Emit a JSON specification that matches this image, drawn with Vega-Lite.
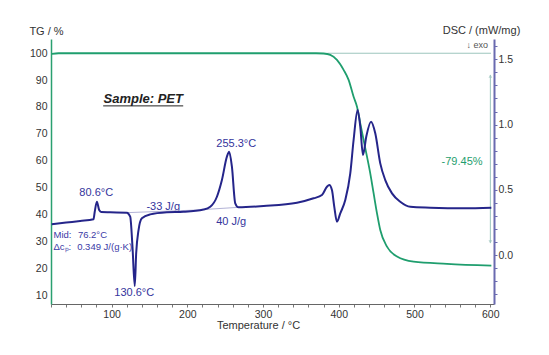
{
  "$schema": "https://vega.github.io/schema/vega-lite/v6.json",
  "width": 443,
  "height": 265,
  "autosize": {"type": "none"},
  "padding": {"left": 51, "top": 39, "right": 55, "bottom": 51},
  "background": "white",
  "config": {
    "view": {"stroke": null},
    "font": "Liberation Sans",
    "axis": {"grid": false, "labelFont": "Liberation Sans", "titleFont": "Liberation Sans"}
  },
  "datasets": {
    "tg": [
      {"T": 21, "TG": 99.8}, {"T": 30, "TG": 100}, {"T": 100, "TG": 100}, {"T": 200, "TG": 100},
      {"T": 300, "TG": 100}, {"T": 370, "TG": 100}, {"T": 380, "TG": 99.9}, {"T": 388.8, "TG": 99.4},
      {"T": 397.6, "TG": 97.5}, {"T": 406.4, "TG": 93.8}, {"T": 413, "TG": 90.1}, {"T": 419.6, "TG": 83.8},
      {"T": 424.1, "TG": 80.1}, {"T": 428.4, "TG": 73.9}, {"T": 432.8, "TG": 67.7}, {"T": 437.3, "TG": 61.5},
      {"T": 441.6, "TG": 55.3}, {"T": 446, "TG": 47.9}, {"T": 450.5, "TG": 40.4}, {"T": 454.8, "TG": 34.2},
      {"T": 463.7, "TG": 28}, {"T": 476.9, "TG": 24.3}, {"T": 498.8, "TG": 22.4}, {"T": 542.9, "TG": 21.6},
      {"T": 601.5, "TG": 20.9}
    ],
    "dsc": [
      {"T": 21, "DSC": 0.236}, {"T": 40, "DSC": 0.249}, {"T": 58.5, "DSC": 0.261}, {"T": 76.1, "DSC": 0.274},
      {"T": 77.7, "DSC": 0.33}, {"T": 80.6, "DSC": 0.409}, {"T": 83.6, "DSC": 0.345}, {"T": 86.3, "DSC": 0.33},
      {"T": 98.2, "DSC": 0.328}, {"T": 120.2, "DSC": 0.325}, {"T": 124.6, "DSC": 0.294}, {"T": 127.6, "DSC": 0.064},
      {"T": 130.6, "DSC": -0.237}, {"T": 132.5, "DSC": 0.016}, {"T": 135.6, "DSC": 0.192}, {"T": 140, "DSC": 0.282},
      {"T": 151, "DSC": 0.312}, {"T": 173.1, "DSC": 0.328}, {"T": 195, "DSC": 0.332}, {"T": 221.4, "DSC": 0.349},
      {"T": 230.3, "DSC": 0.37}, {"T": 239.1, "DSC": 0.447}, {"T": 245.7, "DSC": 0.575}, {"T": 252.3, "DSC": 0.754},
      {"T": 255.3, "DSC": 0.792}, {"T": 258.9, "DSC": 0.677}, {"T": 263.3, "DSC": 0.397}, {"T": 267.7, "DSC": 0.366},
      {"T": 300.7, "DSC": 0.376}, {"T": 344.8, "DSC": 0.401}, {"T": 366.7, "DSC": 0.435}, {"T": 377.8, "DSC": 0.46},
      {"T": 384.4, "DSC": 0.524}, {"T": 387.5, "DSC": 0.537}, {"T": 391, "DSC": 0.498}, {"T": 394.1, "DSC": 0.37},
      {"T": 397.6, "DSC": 0.256}, {"T": 402, "DSC": 0.32}, {"T": 408.6, "DSC": 0.422}, {"T": 415.2, "DSC": 0.626},
      {"T": 419.6, "DSC": 0.882}, {"T": 424.9, "DSC": 1.112}, {"T": 428.4, "DSC": 0.984}, {"T": 432, "DSC": 0.767},
      {"T": 436.3, "DSC": 0.907}, {"T": 442.6, "DSC": 1.022}, {"T": 448.2, "DSC": 0.933}, {"T": 454.8, "DSC": 0.703},
      {"T": 461.4, "DSC": 0.575}, {"T": 470.3, "DSC": 0.473}, {"T": 481.2, "DSC": 0.409}, {"T": 494.5, "DSC": 0.37},
      {"T": 520.9, "DSC": 0.363}, {"T": 564.9, "DSC": 0.358}, {"T": 601.5, "DSC": 0.363}
    ],
    "baselines": [
      {"T": 120, "DSC": 0.325, "seg": "a"}, {"T": 221.4, "DSC": 0.347, "seg": "a"},
      {"T": 221.4, "DSC": 0.349, "seg": "b"}, {"T": 267.7, "DSC": 0.366, "seg": "b"}
    ],
    "blueLabels": [
      {"T": 79.7, "TG": 48.1, "label": "80.6°C"},
      {"T": 168.2, "TG": 42.9, "label": "-33 J/g"},
      {"T": 129.9, "TG": 10.65, "label": "130.6°C"},
      {"T": 264.6, "TG": 66.1, "label": "255.3°C"},
      {"T": 258, "TG": 37.3, "label": "40 J/g"}
    ],
    "smallLabels": [
      {"T": 23.3, "TG": 32.35, "label": "Mid:"},
      {"T": 55.5, "TG": 32.35, "label": "76.2°C"},
      {"T": 23.3, "TG": 28, "label": "Δcₚ:"},
      {"T": 54.6, "TG": 28, "label": "0.349 J/(g·K)"}
    ]
  },
  "encoding": {
    "x": {
      "field": "T",
      "type": "quantitative",
      "scale": {"domain": [20, 605], "nice": false, "zero": false},
      "axis": {
        "values": [20, 40, 60, 80, 100, 120, 140, 160, 180, 200, 220, 240, 260, 280, 300, 320, 340, 360, 380, 400, 420, 440, 460, 480, 500, 520, 540, 560, 580, 600],
        "labelExpr": "datum.value % 100 === 0 ? datum.label : ''",
        "labelOverlap": false,
        "labelFlush": false,
        "labelFontSize": 10.5,
        "labelColor": "#333333",
        "labelPadding": 2,
        "tickSize": 3,
        "tickColor": "#777777",
        "domainColor": "#666666",
        "title": "Temperature / °C",
        "titleFontSize": 11,
        "titleFontWeight": "normal",
        "titleColor": "#333333",
        "titleX": 207,
        "titleY": 21,
        "titleAlign": "center",
        "titleBaseline": "middle"
      }
    }
  },
  "layer": [
    {
      "encoding": {
        "y": {
          "field": "TG",
          "type": "quantitative",
          "scale": {"domain": [6.65, 105.3], "nice": false, "zero": false},
          "axis": {
            "orient": "left",
            "values": [10, 20, 30, 40, 50, 60, 70, 80, 90, 100],
            "ticks": false,
            "labelPadding": 4,
            "labelFontSize": 10.5,
            "labelColor": "#333333",
            "domainColor": "#2aa070",
            "domainWidth": 1.5,
            "title": "TG / %",
            "titleAngle": 0,
            "titleFontSize": 11,
            "titleFontWeight": "normal",
            "titleColor": "#333333",
            "titleX": -5,
            "titleY": -8,
            "titleAlign": "center",
            "titleBaseline": "middle"
          }
        }
      },
      "layer": [
        {
          "data": {"values": [{"T": 385, "T2": 601, "TG": 100}]},
          "mark": {"type": "rule", "color": "#9cc5bd", "strokeWidth": 1},
          "encoding": {"x2": {"field": "T2"}}
        },
        {
          "data": {"values": [{"T": 600.2, "TG": 91.9, "TG2": 29.4}]},
          "mark": {"type": "rule", "color": "#9cc5bd", "strokeWidth": 1},
          "encoding": {"y2": {"field": "TG2"}}
        },
        {
          "data": {"values": [{"T": 600.2, "TG": 91.5}]},
          "mark": {"type": "point", "shape": "triangle-up", "filled": true, "size": 14, "color": "#9cc5bd"}
        },
        {
          "data": {"values": [{"T": 600.2, "TG": 29.8}]},
          "mark": {"type": "point", "shape": "triangle-down", "filled": true, "size": 14, "color": "#9cc5bd"}
        },
        {
          "data": {"name": "tg"},
          "mark": {"type": "line", "color": "#1f9e6e", "strokeWidth": 1.8, "interpolate": "monotone"}
        },
        {
          "data": {"name": "blueLabels"},
          "mark": {"type": "text", "fontSize": 11, "color": "#34349c", "align": "center", "baseline": "middle"},
          "encoding": {"text": {"field": "label"}}
        },
        {
          "data": {"name": "smallLabels"},
          "mark": {"type": "text", "fontSize": 9.5, "color": "#3a3aa6", "align": "left", "baseline": "middle"},
          "encoding": {"text": {"field": "label"}}
        },
        {
          "data": {"values": [{"T": 562.8, "TG": 59.6, "label": "-79.45%"}]},
          "mark": {"type": "text", "fontSize": 11, "color": "#1f9e6e", "align": "center", "baseline": "middle"},
          "encoding": {"text": {"field": "label"}}
        },
        {
          "data": {"values": [{"T": 141.8, "TG": 83.1, "label": "Sample: PET"}]},
          "mark": {"type": "text", "fontSize": 13, "fontWeight": "bold", "fontStyle": "italic", "color": "#222222", "align": "center", "baseline": "middle"},
          "encoding": {"text": {"field": "label"}}
        },
        {
          "data": {"values": [{"T": 88.9, "T2": 194.6, "TG": 80.4}]},
          "mark": {"type": "rule", "color": "#222222", "strokeWidth": 1},
          "encoding": {"x2": {"field": "T2"}}
        },
        {
          "data": {"values": [{"T": 583, "TG": 103.1, "label": "↓ exo"}]},
          "mark": {"type": "text", "fontSize": 9, "color": "#555555", "align": "center", "baseline": "middle"},
          "encoding": {"text": {"field": "label"}}
        }
      ]
    },
    {
      "encoding": {
        "y": {
          "field": "DSC",
          "type": "quantitative",
          "scale": {"domain": [-0.375, 1.656], "nice": false, "zero": false},
          "axis": {
            "orient": "right",
            "values": [-0.3, -0.2, -0.1, 0, 0.1, 0.2, 0.3, 0.4, 0.5, 0.6, 0.7, 0.8, 0.9, 1.0, 1.1, 1.2, 1.3, 1.4, 1.5, 1.6],
            "labelExpr": "abs(datum.value * 2 - round(datum.value * 2)) < 0.01 ? format(datum.value, '.1f') : ''",
            "labelOverlap": false,
            "labelFontSize": 10.5,
            "labelColor": "#333333",
            "labelPadding": 1,
            "tickSize": 3,
            "tickColor": "#6a6ab0",
            "domainColor": "#6a6ab0",
            "domainWidth": 2,
            "title": "DSC / (mW/mg)",
            "titleAngle": 0,
            "titleFontSize": 11,
            "titleFontWeight": "normal",
            "titleColor": "#333333",
            "titleX": -13,
            "titleY": -9,
            "titleAlign": "center",
            "titleBaseline": "middle"
          }
        }
      },
      "layer": [
        {
          "data": {"name": "baselines"},
          "mark": {"type": "line", "color": "#a0a0cc", "strokeWidth": 0.8},
          "encoding": {"detail": {"field": "seg"}}
        },
        {
          "data": {"name": "dsc"},
          "mark": {"type": "line", "color": "#25258a", "strokeWidth": 2, "interpolate": "monotone"}
        }
      ]
    }
  ],
  "resolve": {"scale": {"y": "independent"}}
}
